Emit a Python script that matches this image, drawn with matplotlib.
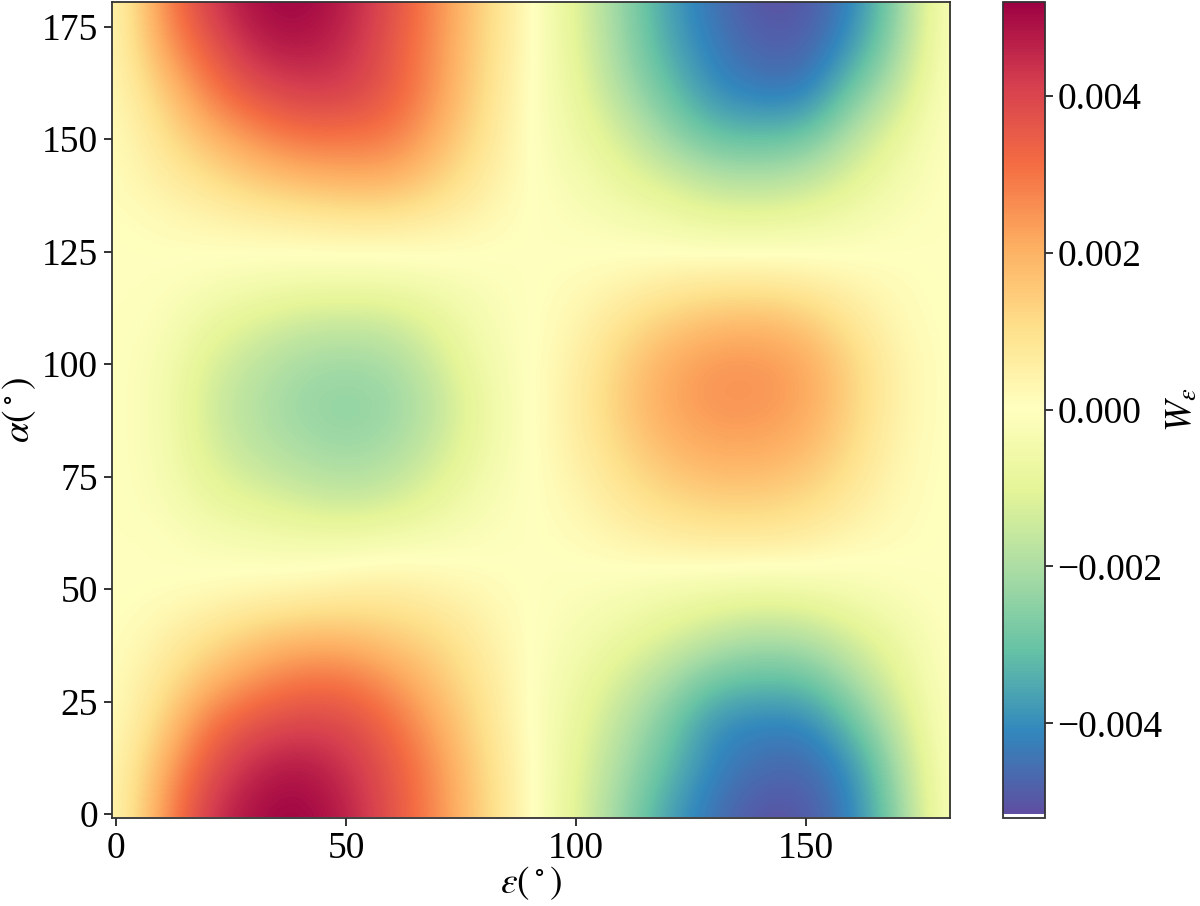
import matplotlib
matplotlib.use('Agg')
import matplotlib.pyplot as plt
import numpy as np

plt.rcParams['font.family'] = ['Liberation Serif', 'DejaVu Serif']
plt.rcParams['mathtext.fontset'] = 'stix'

# axis tick labels
x_ticks = [0, 50, 100, 150]
y_ticks = [0, 25, 50, 75, 100, 125, 150, 175]
cbar_ticks = [-0.004, -0.002, 0.0, 0.002, 0.004]

# W values in units of 1e-4
# columns: eps = 0, 10, ... 180, rows: alpha = 0, 10, ... 180
w_rows = [
    [2, 24, 43, 50, 52, 47, 37, 26, 13, 1, -11, -24, -37, -45, -51, -50, -42, -25, -1],
    [2, 20, 37, 46, 49, 44, 36, 25, 12, 1, -10, -21, -32, -42, -46, -47, -40, -21, -1],
    [1, 13, 30, 37, 40, 39, 32, 21, 10, 0, -8, -18, -28, -40, -42, -42, -31, -16, 0],
    [1, 8, 18, 25, 30, 30, 24, 16, 8, 0, -6, -13, -21, -29, -31, -30, -21, -10, 0],
    [0, 4, 9, 14, 17, 17, 14, 11, 5, 0, -3, -7, -11, -16, -19, -18, -12, -6, 0],
    [0, 0, 1, 2, 3, 5, 6, 4, 2, 0, -1, -2, -4, -5, -6, -5, -3, -1, 0],
    [0, 0, -2, -3, -4, -4, -3, -2, -1, 0, 1, 3, 5, 6, 6, 5, 2, 1, 0],
    [0, -2, -8, -11, -14, -16, -14, -9, -3, 0, 3, 8, 12, 14, 14, 12, 7, 2, 0],
    [0, -3, -12, -17, -20, -22, -20, -14, -6, 0, 5, 12, 18, 21, 21, 18, 11, 3, 0],
    [0, -3, -14, -19, -23, -25, -23, -17, -7, 0, 6, 15, 22, 25, 25, 22, 13, 4, 0],
    [0, -3, -12, -17, -21, -22, -21, -14, -5, 0, 5, 14, 21, 25, 25, 22, 13, 4, 0],
    [0, -1, -7, -11, -14, -15, -14, -9, -3, 0, 3, 9, 14, 17, 18, 15, 8, 2, 0],
    [0, 0, -1, -2, -3, -3, -3, -2, -1, 0, 1, 2, 4, 5, 5, 4, 2, 1, 0],
    [0, 1, 2, 3, 4, 5, 5, 4, 2, 0, -1, -2, -4, -6, -6, -5, -3, -1, 0],
    [1, 5, 9, 14, 17, 19, 19, 13, 6, 0, -3, -8, -12, -17, -18, -16, -10, -4, 0],
    [1, 9, 18, 25, 30, 30, 29, 20, 9, 0, -6, -13, -23, -30, -31, -29, -18, -8, 0],
    [2, 14, 28, 37, 41, 41, 35, 24, 11, 0, -8, -20, -30, -40, -43, -43, -28, -16, 0],
    [2, 22, 35, 46, 48, 45, 36, 25, 12, 1, -10, -23, -35, -43, -48, -48, -38, -22, -1],
    [2, 26, 42, 50, 52, 47, 38, 26, 13, 1, -11, -24, -37, -45, -51, -50, -42, -25, -1],
]

W, H = 1200, 906
fig = plt.figure(figsize=(W / 100, H / 100), dpi=100)
ax = fig.add_axes([112 / W, 1 - 817.5 / H, (950 - 112) / W, (817.5 - 1.5) / H])
cax = fig.add_axes([1003 / W, 1 - 817.5 / H, (1045 - 1003) / W, (817.5 - 1.5) / H])

vals = np.array(w_rows) * 1e-4
im = ax.imshow(vals, origin='lower', cmap='Spectral_r', vmin=-0.00515, vmax=0.0052,
               extent=[-5, 185, -5, 185], aspect='auto', interpolation='bicubic')
ax.set_xlim(-0.87, 181.3)
ax.set_ylim(-0.78, 180.6)
ax.set_xticks(x_ticks)
ax.set_yticks(y_ticks)
ax.tick_params(labelsize=27, length=6, width=1.3, color='#222222', pad=4)
ax.set_xlabel(r'$\varepsilon(\,^{\circ}\,)$', fontsize=27, labelpad=-1)
ax.set_ylabel(r'$\alpha(\,^{\circ}\,)$', fontsize=27, labelpad=3)

cbar = fig.colorbar(im, cax=cax)
cbar.ax.set_ylim(-0.0052, 0.0052)
cbar.set_ticks(cbar_ticks)
cbar.ax.tick_params(labelsize=27, length=6, width=1.3, color='#222222', pad=3)
cbar.set_label(r'$W_{\varepsilon}$', fontsize=27, labelpad=2)

for a in (ax, cax):
    for s in a.spines.values():
        s.set_linewidth(1.3)
        s.set_color('#333333')
cbar.outline.set_linewidth(1.3)
cbar.outline.set_edgecolor('#333333')

fig.savefig('out.png', dpi=100)
